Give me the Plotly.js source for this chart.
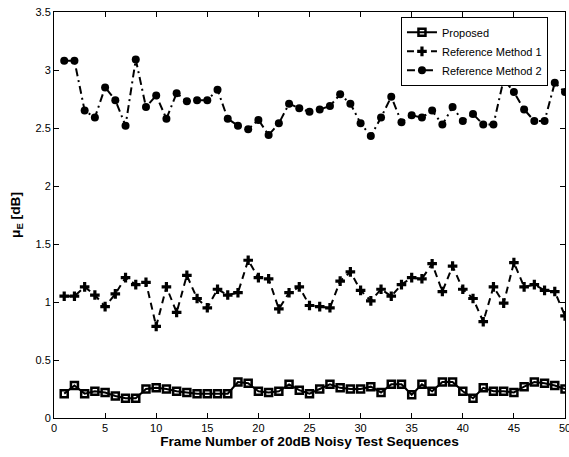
<!DOCTYPE html>
<html>
<head>
<meta charset="utf-8">
<script src="https://cdn.plot.ly/plotly-3.0.1.min.js"></script>
<style>
  html, body { margin: 0; padding: 0; background: #fff; }
  #chart { width: 569px; height: 457px; }
</style>
</head>
<body>
<div id="chart"></div>
<script>
// Frame indices of the 20dB noisy test sequences
const frames = Array.from({length: 50}, (_, i) => i + 1);

// Error measure per frame for each method (dB)
const proposed = [
  0.21, 0.28, 0.21, 0.23, 0.22, 0.19, 0.17, 0.17, 0.25, 0.26,
  0.25, 0.23, 0.22, 0.21, 0.21, 0.21, 0.21, 0.31, 0.30, 0.23,
  0.22, 0.23, 0.29, 0.24, 0.21, 0.25, 0.29, 0.26, 0.25, 0.25,
  0.27, 0.22, 0.29, 0.29, 0.20, 0.29, 0.23, 0.31, 0.31, 0.23,
  0.17, 0.26, 0.23, 0.23, 0.22, 0.27, 0.31, 0.30, 0.28, 0.25
];
const refMethod1 = [
  1.05, 1.05, 1.13, 1.06, 0.96, 1.07, 1.21, 1.15, 1.17, 0.79,
  1.13, 0.91, 1.23, 1.03, 0.95, 1.11, 1.06, 1.08, 1.36, 1.21,
  1.20, 0.94, 1.08, 1.13, 0.97, 0.96, 0.95, 1.18, 1.26, 1.10,
  1.01, 1.11, 1.05, 1.15, 1.21, 1.20, 1.33, 1.09, 1.31, 1.11,
  1.03, 0.83, 1.13, 0.99, 1.34, 1.13, 1.15, 1.10, 1.09, 0.88
];
const refMethod2 = [
  3.08, 3.08, 2.65, 2.59, 2.85, 2.74, 2.52, 3.09, 2.68, 2.78,
  2.58, 2.80, 2.73, 2.74, 2.74, 2.83, 2.58, 2.52, 2.49, 2.57,
  2.44, 2.54, 2.71, 2.67, 2.64, 2.66, 2.69, 2.79, 2.71, 2.54,
  2.43, 2.59, 2.77, 2.55, 2.61, 2.59, 2.65, 2.53, 2.68, 2.56,
  2.62, 2.53, 2.53, 2.92, 2.81, 2.66, 2.56, 2.56, 2.89, 2.81
];

const xTicks = [0, 5, 10, 15, 20, 25, 30, 35, 40, 45, 50];
const yTicks = [0, 0.5, 1, 1.5, 2, 2.5, 3, 3.5];
const yTickLabels = ['0', '0.5', '1', '1.5', '2', '2.5', '3', '3.5'];

const traces = [
  {
    x: frames, y: proposed, name: 'Proposed', type: 'scatter', mode: 'lines+markers',
    line: {color: '#000', width: 2},
    marker: {symbol: 'square-open', size: 7, color: '#000', line: {color: '#000', width: 2.5}}
  },
  {
    x: frames, y: refMethod1, name: 'Reference Method 1', type: 'scatter', mode: 'lines+markers',
    line: {color: '#000', width: 2, dash: '7px,5px'},
    marker: {symbol: 'cross', size: 8, color: '#000'}
  },
  {
    x: frames, y: refMethod2, name: 'Reference Method 2', type: 'scatter', mode: 'lines+markers',
    line: {color: '#000', width: 2, dash: '8px,4px,2px,4px'},
    marker: {symbol: 'circle', size: 8, color: '#000'}
  }
];

const fontFamily = 'Liberation Sans, Arial, sans-serif';

const axisCommon = {
  showgrid: false, zeroline: false,
  showline: true, linecolor: '#000', linewidth: 1, mirror: 'ticks',
  ticks: 'inside', ticklen: 5, tickcolor: '#000', tickwidth: 1,
  ticklabeloverflow: 'allow',
  tickfont: {family: fontFamily, size: 11, color: '#000'}
};

const layout = {
  width: 569, height: 457,
  margin: {l: 54, r: 4, t: 12, b: 39},
  paper_bgcolor: '#fff', plot_bgcolor: '#fff',
  showlegend: true,
  xaxis: Object.assign({}, axisCommon, {
    range: [0, 50], tickvals: xTicks, ticktext: xTicks.map(String),
    title: {text: '<b>Frame Number of 20dB Noisy Test Sequences</b>', standoff: 1,
            font: {family: fontFamily, size: 13.7, color: '#000'}}
  }),
  yaxis: Object.assign({}, axisCommon, {
    range: [0, 3.5], tickvals: yTicks, ticktext: yTickLabels,
    title: {text: '<b>μ<sub>E</sub> [dB]</b>', standoff: 11,
            font: {family: fontFamily, size: 13.7, color: '#000'}}
  }),
  legend: {
    x: 0.679, y: 0.988, xanchor: 'left', yanchor: 'top',
    bgcolor: '#fff', bordercolor: '#000', borderwidth: 1,
    font: {family: fontFamily, size: 11, color: '#000'},
    tracegroupgap: 0, itemwidth: 30
  }
};

Plotly.newPlot('chart', traces, layout, {displayModeBar: false, staticPlot: true});
</script>
</body>
</html>
